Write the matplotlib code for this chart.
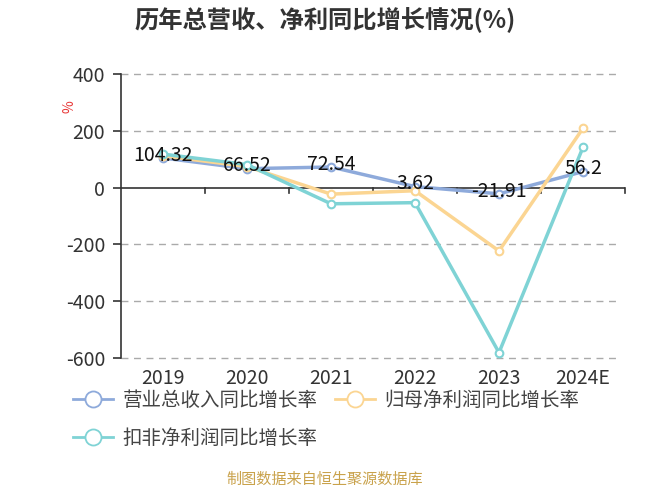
import matplotlib
matplotlib.use("Agg")
import matplotlib.pyplot as plt

plt.rcParams['font.family'] = ['Noto Sans CJK SC', 'DejaVu Sans']

# === Données ===
years = ["2019", "2020", "2021", "2022", "2023", "2024E"]
revenue_growth = [104.32, 66.52, 72.54, 3.62, -21.91, 56.2]
net_profit_growth = [112, 74, -23, -11, -223, 209]
deducted_profit_growth = [118, 81, -57, -53, -581, 142]

series_names = ["营业总收入同比增长率", "归母净利润同比增长率", "扣非净利润同比增长率"]
colors = ["#8eaadb", "#fbd592", "#7fd3d5"]
y_ticks = [400, 200, 0, -200, -400, -600]

fig = plt.figure(figsize=(6.5, 4.88), dpi=100)
ax = fig.add_axes([121 / 650, 1 - 358 / 488, 504 / 650, 284 / 488])

x = list(range(len(years)))
handles = []
for vals, col, name in zip([revenue_growth, net_profit_growth, deducted_profit_growth], colors, series_names):
    h, = ax.plot(x, vals, color=col, lw=2.5, marker='o', ms=5.5, mfc='white', mec=col, mew=1.5,
                 label=name, zorder=3)
    handles.append(h)

# étiquettes de la série revenus
for xi, v in zip(x, revenue_growth):
    ax.annotate(f"{v:g}", (xi, v), xytext=(0, 2), textcoords='offset points',
                ha='center', va='center', fontsize=14, color='#111111', zorder=6)

ax.set_xlim(-0.5, len(years) - 0.5)
ax.set_ylim(-600, 400)
ax.set_yticks(y_ticks)
ax.set_yticklabels([str(t) for t in y_ticks], fontsize=14, color='#333333')
ax.set_xticks(x)
ax.set_xticklabels([])
for xi, yr in zip(x, years):
    ax.text(xi, -20 / 284, yr, transform=ax.get_xaxis_transform(), ha='center', va='center',
            fontsize=14, color='#333333')

for t in y_ticks:
    if t != 0:
        ax.axhline(t, xmax=497 / 504, color='#aaaaaa', lw=1, ls=(0, (5, 4)), zorder=1, clip_on=False)

for s in ['top', 'right', 'bottom']:
    ax.spines[s].set_visible(False)
ax.spines['left'].set_color('#333333')
ax.spines['left'].set_linewidth(1.2)
ax.tick_params(axis='y', length=6, color='#333333', width=1.2, pad=5.5)
ax.tick_params(axis='x', length=0)

# axe x à zéro avec ticks aux limites de catégories
ax.axhline(0, color='#333333', lw=1.2, zorder=2)
for b in [i + 0.5 for i in range(len(years))]:
    ax.plot([b, b], [0, -20], color='#333333', lw=1.2, zorder=2, clip_on=False)

fig.text(0.5, 1 - 20 / 488, "历年总营收、净利同比增长情况(%)", ha='center', va='center',
         fontsize=17.5, fontweight='bold', color='#333333')
fig.text(70 / 650, 1 - 107 / 488, "%", ha='center', va='center', fontsize=10,
         color='#e83a3a', rotation=90)

# ordre pour remplir ligne par ligne : bleu, orange / teal
leg_handles = [handles[0], handles[2], handles[1]]
leg = fig.legend(handles=leg_handles, loc='upper left', bbox_to_anchor=(73 / 650, 1 - 390 / 488),
                 ncol=2, frameon=False, fontsize=14, handlelength=2.05, markerscale=2.1,
                 columnspacing=0.88, handletextpad=0.5, labelspacing=0.85, labelcolor='#444444',
                 borderpad=0, borderaxespad=0)
for lh in leg.legend_handles:
    lh.set_linewidth(2)
    lh.set_markeredgewidth(1.3)

fig.text(0.5, 1 - 479 / 488, "制图数据来自恒生聚源数据库", ha='center', va='center',
         fontsize=10.9, color='#c9a24b')

fig.savefig("out.png", dpi=100)
